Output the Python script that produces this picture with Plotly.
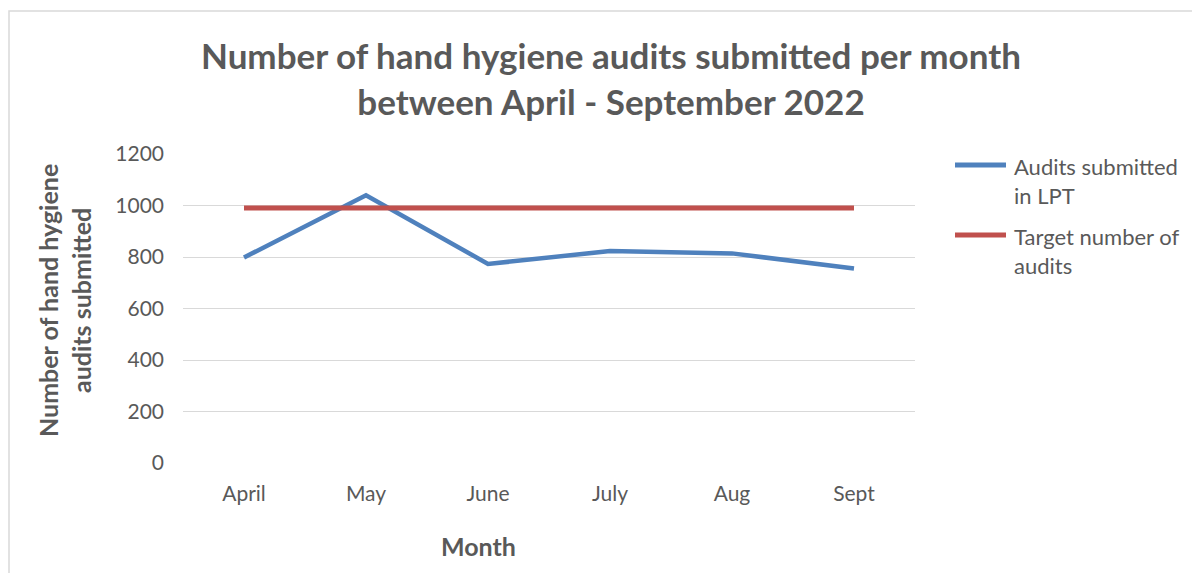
import plotly.graph_objects as go

months = ["April", "May", "June", "July", "Aug", "Sept"]
audits = [798, 1040, 773, 823, 814, 755]
target = [990, 990, 990, 990, 990, 990]
y_ticks = [0, 200, 400, 600, 800, 1000, 1200]
series_names = ["Audits submitted<br>in LPT", "Target number of<br>audits"]
series_colors = ["#4F81BD", "#C0504D"]

FONT = "Lato"
GREY = "#595959"

fig = go.Figure()
fig.add_trace(go.Scatter(x=months, y=audits, mode="lines", name=series_names[0],
                         line=dict(color=series_colors[0], width=4.5)))
fig.add_trace(go.Scatter(x=months, y=target, mode="lines", name=series_names[1],
                         line=dict(color=series_colors[1], width=5)))

OFF = 8  # page body margin
L, R, T, B = 183, 915, 154, 463   # plot area in screenshot pixels
W, H = 1200 - OFF, 573 - OFF
pw, ph = R - L, B - T


def px(x):
    return (x - L) / pw


def py(y):
    return (B - y) / ph


fig.update_layout(
    width=W, height=H,
    margin=dict(l=L - OFF, r=1200 - R, t=T - OFF, b=573 - B, autoexpand=False),
    paper_bgcolor="white", plot_bgcolor="white",
    font=dict(family=FONT, size=21, color=GREY),
    showlegend=False,
    xaxis=dict(range=[-0.5, 5.5], showgrid=False, zeroline=False, showline=False,
               ticks="", tickfont=dict(size=21, color=GREY), ticklabelstandoff=16),
    yaxis=dict(range=[0, 1200], tickvals=y_ticks, showgrid=True, gridcolor="#D9D9D9",
               gridwidth=1.3, zeroline=False, showline=False, ticks="",
               tickfont=dict(size=21, color=GREY), ticklabelstandoff=18),
)

fig.add_annotation(text="<b>Number of hand hygiene audits submitted per month<br>between April - September 2022</b>",
                   xref="paper", yref="paper", x=px(611), y=py(78),
                   showarrow=False, font=dict(size=35, color=GREY, family=FONT),
                   xanchor="center", yanchor="middle", align="center")
fig.add_annotation(text="<b>Number of hand hygiene<br>audits submitted</b>",
                   xref="paper", yref="paper", x=px(64), y=py(301),
                   showarrow=False, textangle=-90, font=dict(size=25, color=GREY, family=FONT),
                   xanchor="center", yanchor="middle", align="center")
fig.add_annotation(text="<b>Month</b>",
                   xref="paper", yref="paper", x=px(478), y=py(546),
                   showarrow=False, font=dict(size=25, color=GREY, family=FONT),
                   xanchor="center", yanchor="middle")

# legend drawn manually (long swatches, wrapped text)
legend_rows = [165, 235]
for name, color, yrow in zip(series_names, series_colors, legend_rows):
    fig.add_shape(type="line", xref="paper", yref="paper",
                  x0=px(955), x1=px(1006), y0=py(yrow), y1=py(yrow),
                  line=dict(color=color, width=5))
    fig.add_annotation(text=name, xref="paper", yref="paper", x=px(1012), y=py(yrow - 14),
                       showarrow=False, xanchor="left", yanchor="top", align="left",
                       font=dict(size=22, color=GREY, family=FONT))

fig.add_shape(type="rect", xref="paper", yref="paper",
              x0=px(9), x1=px(1215), y0=py(600), y1=py(11),
              line=dict(color="#D9D9D9", width=1.5), fillcolor="rgba(0,0,0,0)", layer="below")

fig.write_html("out.html")
